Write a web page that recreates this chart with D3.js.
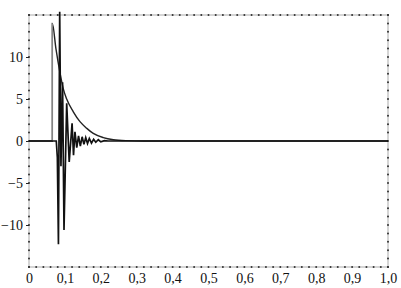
<!DOCTYPE html>
<html>
<head>
<meta charset="utf-8">
<script src="https://cdn.jsdelivr.net/npm/d3@7"></script>
<style>
  html, body { margin: 0; padding: 0; background: #fff; }
  svg { display: block; }
  text { font-family: "Liberation Serif", "Times New Roman", serif; fill: #111; }
</style>
</head>
<body>
<svg id="chart" width="401" height="288"></svg>
<script>
// tick labels
const xTicks = [0, 0.1, 0.2, 0.3, 0.4, 0.5, 0.6, 0.7, 0.8, 0.9, 1.0]
const xTickLabels = ['0', '0,1', '0,2', '0,3', '0,4', '0,5', '0,6', '0,7', '0,8', '0,9', '1,0']
const yTicks = [-10, -5, 0, 5, 10]
const yTickLabels = ['\u221210', '\u22125', '0', '5', '10']

// decaying envelope
const envX = [0, 0.065, 0.065, 0.075, 0.086, 0.095, 0.105, 0.123, 0.142, 0.161, 0.179, 0.207, 0.235, 0.27, 0.32, 1.0]
const envY = [0, 0, 14.0, 11.0, 8.2, 6.3, 5.0, 3.5, 2.3, 1.5, 0.9, 0.4, 0.15, 0.04, 0, 0]

// oscillating response
const sigX = [0, 0.076, 0.079, 0.082, 0.0855, 0.089, 0.0935, 0.0975, 0.105, 0.112, 0.12, 0.124, 0.128, 0.133, 0.138, 0.143, 0.148, 0.153, 0.158, 0.163, 0.168, 0.174, 0.18, 0.186, 0.193, 0.2, 0.21, 0.22, 1.0]
const sigY = [0, 0, -2, -12.3, 15.4, -3, 7, -10.6, 4.5, -2.5, 2.1, -1.7, 1.1, -0.8, 0.6, -0.6, 0.5, -0.4, 0.4, -0.3, 0.3, -0.25, 0.2, -0.15, 0.15, -0.1, 0.05, 0, 0]

const margin = { top: 15, right: 13, bottom: 21, left: 29 }
const width = 401 - margin.left - margin.right
const height = 288 - margin.top - margin.bottom

const xScale = d3.scaleLinear().domain([0, 1]).range([0, width])
const yScale = d3.scaleLinear().domain([-15, 15]).range([height, 0])

const svg = d3.select('#chart')
  .append('g')
  .attr('transform', `translate(${margin.left},${margin.top})`)

// frame
svg.append('rect')
  .attr('width', width)
  .attr('height', height)
  .style('fill', 'none')
  .style('stroke', '#888')
  .style('stroke-width', 0.7)

// minor tick dots along all four sides
const xMinor = d3.range(0, 51).map(i => i / 50)
const yMinor = d3.range(-15, 16)
const dots = svg.append('g').style('fill', '#333')
xMinor.forEach(v => {
  dots.append('circle').attr('cx', xScale(v)).attr('cy', 0).attr('r', 1)
  dots.append('circle').attr('cx', xScale(v)).attr('cy', height).attr('r', 1)
})
yMinor.forEach(v => {
  dots.append('circle').attr('cx', 0).attr('cy', yScale(v)).attr('r', 1)
  dots.append('circle').attr('cx', width).attr('cy', yScale(v)).attr('r', 1)
})

// x axis labels
const xAxis = d3.axisBottom(xScale)
  .tickValues(xTicks)
  .tickSize(0)
  .tickPadding(6)
  .tickFormat((d, i) => xTickLabels[i])
svg.append('g')
  .attr('transform', `translate(0,${height})`)
  .call(xAxis)
  .call(g => g.select('.domain').remove())
  .selectAll('text')
  .style('font-size', '14px')

// y axis labels with short ticks
const yAxis = d3.axisLeft(yScale)
  .tickValues(yTicks)
  .tickSize(3)
  .tickPadding(3)
  .tickFormat((d, i) => yTickLabels[i])
svg.append('g')
  .call(yAxis)
  .call(g => g.select('.domain').remove())
  .call(g => g.selectAll('line').style('stroke', '#222'))
  .selectAll('text')
  .style('font-size', '14px')

// envelope
const envData = envX.map((x, i) => ({ x, y: envY[i] }))
const envLine = d3.line()
  .x(d => xScale(d.x))
  .y(d => yScale(d.y))
  .curve(d3.curveMonotoneX)
svg.append('path')
  .datum(envData)
  .attr('d', envLine)
  .style('fill', 'none')
  .style('stroke', '#222')
  .style('stroke-width', 1.4)

// gray edge where envelope starts
svg.append('line')
  .attr('x1', xScale(envX[1])).attr('x2', xScale(envX[2]))
  .attr('y1', yScale(envY[1])).attr('y2', yScale(envY[2]))
  .style('stroke', '#999')
  .style('stroke-width', 1)

// oscillating signal
const sigData = sigX.map((x, i) => ({ x, y: sigY[i] }))
const sigLine = d3.line()
  .x(d => xScale(d.x))
  .y(d => yScale(d.y))
svg.append('path')
  .datum(sigData)
  .attr('d', sigLine)
  .style('fill', 'none')
  .style('stroke', '#111')
  .style('stroke-width', 1.7)
</script>
</body>
</html>
